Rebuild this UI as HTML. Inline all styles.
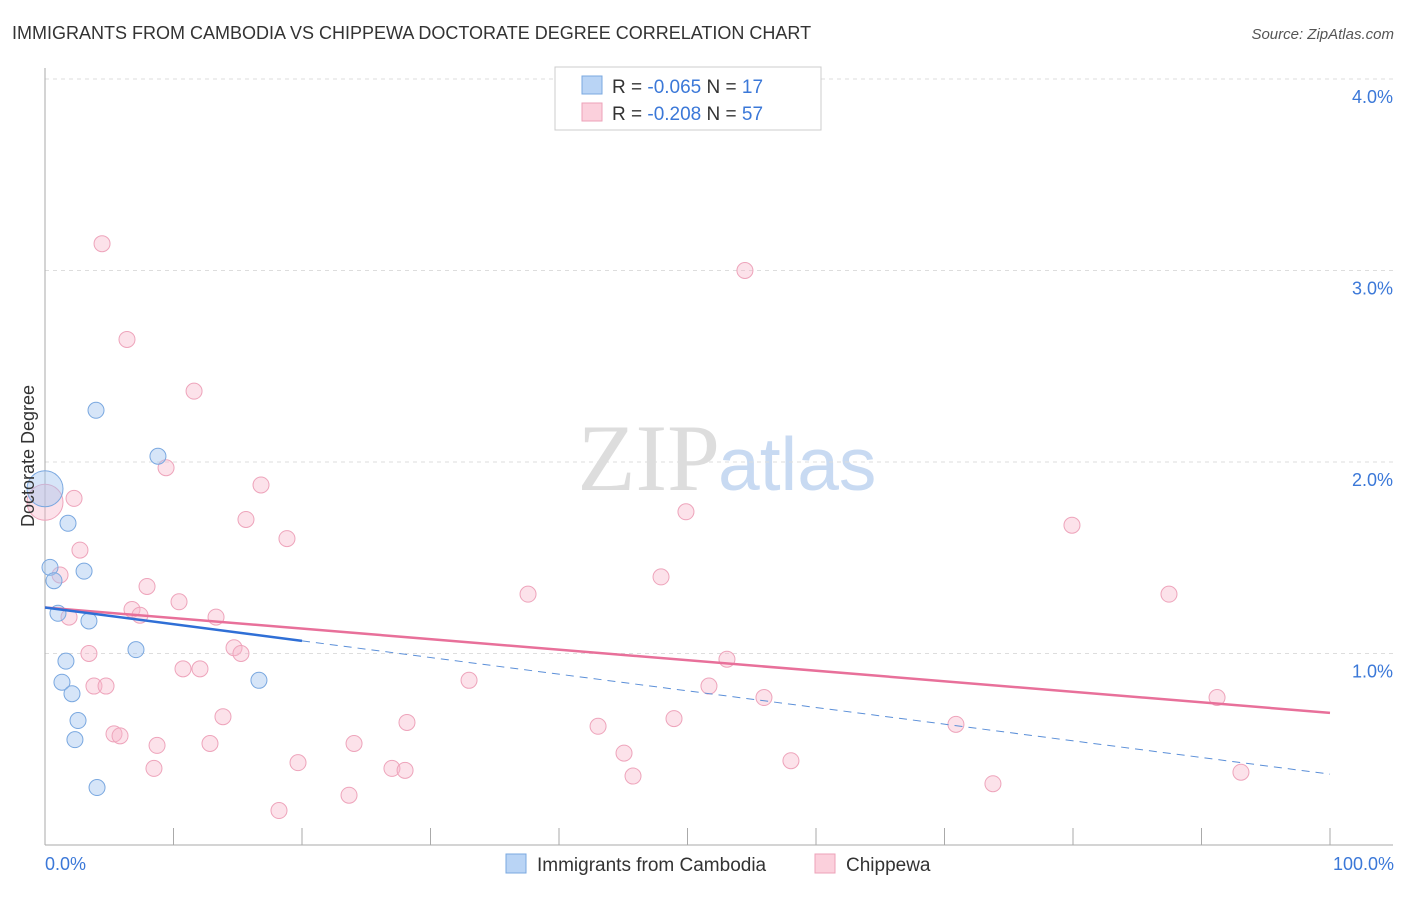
<!DOCTYPE html>
<html><head><meta charset="utf-8"><style>
body{margin:0;background:#fff;font-family:"Liberation Sans",sans-serif;}
</style></head><body>
<svg id="chart" width="1406" height="892" xmlns="http://www.w3.org/2000/svg">
<text x="12" y="39" font-size="18" fill="#333">IMMIGRANTS FROM CAMBODIA VS CHIPPEWA DOCTORATE DEGREE CORRELATION CHART</text>
<text x="1394" y="39" font-size="15" fill="#555" font-style="italic" text-anchor="end">Source: ZipAtlas.com</text>
<text x="720" y="490" font-size="95" fill="#ddd" font-family="Liberation Serif" text-anchor="end">ZIP</text>
<text x="718" y="490" font-size="75" fill="#c8daf2">atlas</text>
<g id="grid"></g>
<g id="axes"></g>
<g id="marks"></g>
<text transform="translate(34,456) rotate(-90)" font-size="18" fill="#333" text-anchor="middle">Doctorate Degree</text>
<text x="45" y="870" font-size="18" fill="#3b78d8">0.0%</text>
<text x="1394" y="870" font-size="18" fill="#3b78d8" text-anchor="end">100.0%</text>
<g>
<rect x="555" y="67" width="266" height="63" fill="#fff" stroke="#ccc"/>
<rect x="582" y="76" width="20" height="18" fill="#b9d4f5" stroke="#7aa8e0"/>
<rect x="582" y="103" width="20" height="18" fill="#fbd0dc" stroke="#eda2b8"/>
<text x="612" y="93" font-size="19" fill="#333">R = <tspan fill="#3b78d8">-0.065</tspan>   N =  <tspan fill="#3b78d8">17</tspan></text>
<text x="612" y="120" font-size="19" fill="#333">R = <tspan fill="#3b78d8">-0.208</tspan>   N = <tspan fill="#3b78d8">57</tspan></text>
</g>
<g>
<rect x="506" y="854" width="20" height="19" fill="#b9d4f5" stroke="#7aa8e0"/>
<text x="537" y="871" font-size="19" fill="#333">Immigrants from Cambodia</text>
<rect x="815" y="854" width="20" height="19" fill="#fbd0dc" stroke="#eda2b8"/>
<text x="846" y="871" font-size="19" fill="#333">Chippewa</text>
</g>
</svg>
<script>
const yTicks=[1,2,3,4];
const yTickLabels=["1.0%","2.0%","3.0%","4.0%"];
const blueX=[3.97,8.79,0,1.79,0.39,3.04,0.70,1.01,3.42,7.08,1.63,1.32,2.10,16.65,2.57,2.33,4.05];
const blueY=[2.27,2.03,1.86,1.68,1.45,1.43,1.38,1.21,1.17,1.02,0.96,0.85,0.79,0.86,0.65,0.55,0.30];
const pinkX=[4.44,54.47,6.38,11.60,9.42,16.81,2.26,0,49.88,15.64,79.92,18.83,2.72,1.17,7.94,47.94,37.59,87.47,10.43,6.77,7.39,13.31,1.87,14.71,15.25,3.42,53.07,10.74,12.06,3.81,4.75,33.00,51.67,55.95,91.21,13.85,28.17,48.95,43.04,70.89,5.37,5.84,8.72,12.84,24.05,45.06,19.69,58.05,8.48,27.00,28.02,45.76,93.07,73.77,23.66,18.21];
const pinkY=[3.14,3.00,2.64,2.37,1.97,1.88,1.81,1.79,1.74,1.70,1.67,1.60,1.54,1.41,1.35,1.40,1.31,1.31,1.27,1.23,1.20,1.19,1.19,1.03,1.00,1.00,0.97,0.92,0.92,0.83,0.83,0.86,0.83,0.77,0.77,0.67,0.64,0.66,0.62,0.63,0.58,0.57,0.52,0.53,0.53,0.48,0.43,0.44,0.40,0.40,0.39,0.36,0.38,0.32,0.26,0.18];
const blueLine=[1.24,0.37];
const pinkLine=[1.24,0.69];
const NS="http://www.w3.org/2000/svg";
const sx=v=>45+v*12.85;
const sy=v=>845-v*191.5;
function mk(tag,attrs,parent){const e=document.createElementNS(NS,tag);for(const k in attrs)e.setAttribute(k,attrs[k]);document.getElementById(parent).appendChild(e);return e;}
yTicks.forEach((t,i)=>{
 const l=mk('line',{x1:45,x2:1393,y1:sy(t),y2:sy(t),stroke:'#ddd','stroke-dasharray':'4,4'},'grid');
 
 
 const tx=mk('text',{x:1393,y:sy(t)+24,'font-size':18,fill:'#3b78d8','text-anchor':'end'},'grid');
 tx.textContent=yTickLabels[i];
 
 
});
const ax=mk('line',{x1:45,x2:1393,y1:845,y2:845,stroke:'#aaa'},'axes');


const ay=mk('line',{x1:45,x2:45,y1:68,y2:845,stroke:'#aaa'},'axes');


for(let i=0;i<=10;i++){
 const t=mk('line',{x1:sx(i*10),x2:sx(i*10),y1:828,y2:845,stroke:'#aaa'},'axes');
 
 
}
pinkX.forEach((x,i)=>{
 const c=mk('circle',{cx:sx(x),cy:sy(pinkY[i]),r:x===0?18:8,fill:'rgba(247,182,202,0.4)',stroke:'#eea4bb','stroke-width':1},'marks');
 
 
});
blueX.forEach((x,i)=>{
 const c=mk('circle',{cx:sx(x),cy:sy(blueY[i]),r:x===0?18:8,fill:'rgba(165,198,240,0.45)',stroke:'#7aa8e0','stroke-width':1},'marks');
 
 
});
const bEnd=blueLine[0]+(blueLine[1]-blueLine[0])*0.2;
const bd=mk('line',{x1:sx(20),y1:sy(bEnd),x2:sx(100),y2:sy(blueLine[1]),stroke:'#5b8fd8','stroke-width':1,'stroke-dasharray':'8,6'},'marks');


const pl=mk('line',{x1:sx(0),y1:sy(pinkLine[0]),x2:sx(100),y2:sy(pinkLine[1]),stroke:'#e8709a','stroke-width':2.5},'marks');


const bs=mk('line',{x1:sx(0),y1:sy(blueLine[0]),x2:sx(20),y2:sy(bEnd),stroke:'#2f6fd6','stroke-width':2.5},'marks');


</script>
</body></html>
